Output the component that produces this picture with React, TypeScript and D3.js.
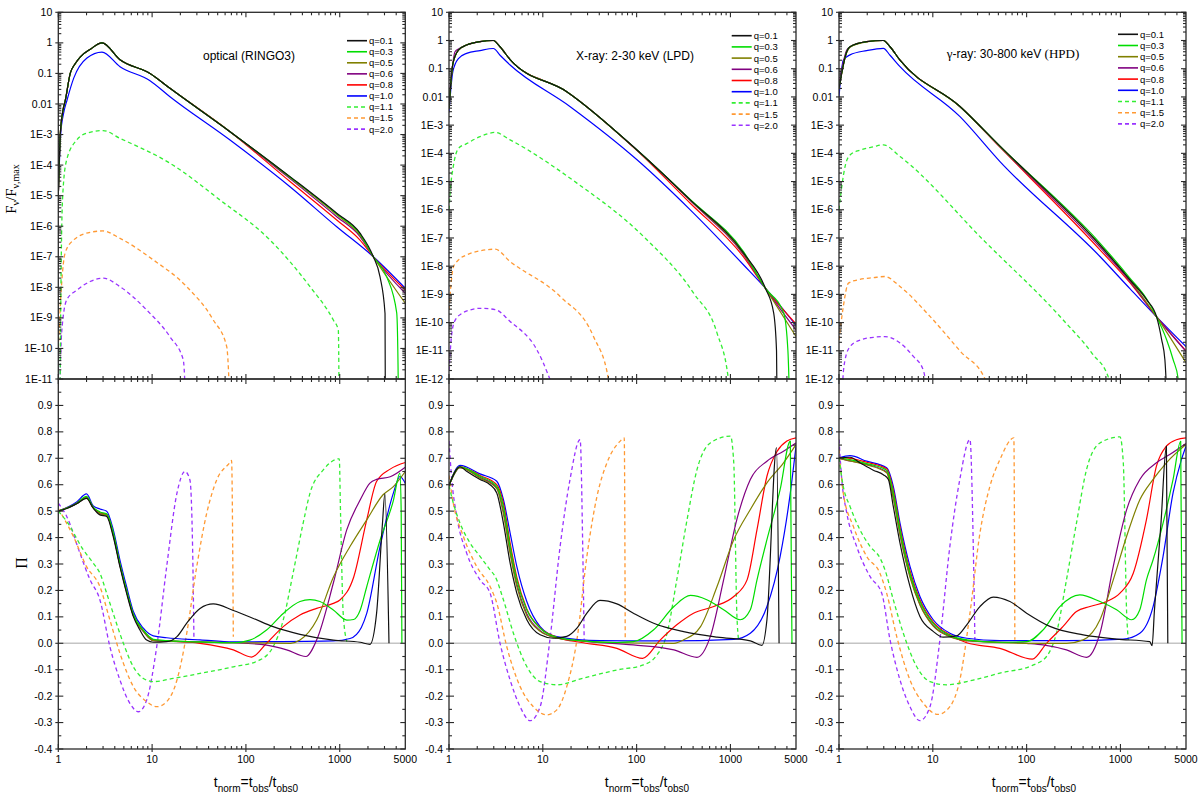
import React from "react";
import * as d3 from "d3";

type Pt = [number, number];

// ---------- series meta ----------
const qLabels = ["q=0.1", "q=0.3", "q=0.5", "q=0.6", "q=0.8", "q=1.0", "q=1.1", "q=1.5", "q=2.0"];
const qColors = ["#111111", "#00dd00", "#808000", "#800080", "#ff0000", "#0000ff", "#33ee33", "#ff9933", "#9933ff"];
const qDashed = [false, false, false, false, false, false, true, true, true];

// ---------- axes ----------
const xTickValues = [1, 10, 100, 1000, 5000];
const xTickLabels = ["1", "10", "100", "1000", "5000"];
const piTickValues = [-0.4, -0.3, -0.2, -0.1, 0.0, 0.1, 0.2, 0.3, 0.4, 0.5, 0.6, 0.7, 0.8, 0.9];
const panelTitles = ["optical (RINGO3)", "X-ray: 2-30 keV (LPD)", "γ-ray: 30-800 keV (HPD)"];
const fluxFloorExp = [-11, -12, -12];

// ---------- optical flux ----------
const optFluxEarly: Pt[] = [[1, 1e-5], [1.05, 1e-3], [1.12, 6e-3], [1.19, 0.0135], [1.34, 0.1], [1.5, 0.2], [1.72, 0.35], [2.2, 0.62], [2.92, 1.0], [4.55, 0.28], [9.5, 0.1], [15.5, 0.0326], [67.7, 1.24e-3]];
const opticalFlux: Pt[][] = [
  [...optFluxEarly, [295, 4.2e-5], [929, 2.65e-6], [1645, 5.9e-7], [2282, 1e-7], [2690, 2.2e-8], [3040, 1.4e-9], [3075, 1e-13]],
  [...optFluxEarly, [295, 4.1e-5], [929, 2.55e-6], [1645, 5.6e-7], [2282, 1e-7], [3170, 2.2e-8], [4050, 1.45e-9], [4200, 1e-11], [4215, 1e-13]],
  [...optFluxEarly, [295, 3.9e-5], [929, 2.35e-6], [1645, 5.1e-7], [2282, 1e-7], [5000, 3e-9]],
  [...optFluxEarly, [295, 3.6e-5], [929, 2.05e-6], [1645, 4.6e-7], [2282, 1e-7], [5000, 6.4e-9]],
  [...optFluxEarly, [295, 2.9e-5], [929, 1.6e-6], [1645, 3.5e-7], [2282, 1e-7], [5000, 8.2e-9]],
  [[1, 1e-5], [1.06, 1e-3], [1.14, 5e-3], [1.24, 0.0135], [1.46, 0.07], [2.02, 0.32], [2.92, 0.5], [4.55, 0.166], [9.5, 0.058], [15.5, 0.0173], [67.7, 6.6e-4], [295, 1.96e-5], [929, 9.6e-7], [2282, 1e-7], [5000, 9.3e-9]],
  [[1.04, 1e-12], [1.085, 5.9e-7], [1.13, 2e-5], [1.23, 1.5e-4], [1.57, 6.6e-4], [2.0, 1.1e-3], [3.0, 1.35e-3], [4.55, 7.5e-4], [15.5, 1.15e-4], [53, 7.2e-6], [181, 3.5e-7], [482, 1.05e-8], [855, 8.5e-10], [966, 4e-10], [990, 1e-13]],
  [[1, 1e-10], [1.085, 1.3e-8], [1.18, 1.3e-7], [1.45, 3.5e-7], [2.18, 6.3e-7], [3.0, 7e-7], [4.55, 4e-7], [10.3, 7.9e-8], [23.4, 1.05e-8], [44.9, 8.5e-10], [62.4, 1.15e-10], [69.4, 1e-13]],
  [[1.025, 1e-12], [1.085, 3.2e-10], [1.23, 3.9e-9], [1.57, 8e-9], [2.18, 1.55e-8], [3.02, 2e-8], [4.55, 1.05e-8], [8.76, 1.8e-9], [15.5, 2.4e-10], [21.5, 4.2e-11], [23.4, 1e-13]],
];

// ---------- optical polarization ----------
const opticalPol: Pt[][] = [
  [[1, 0.5], [1.23, 0.51], [1.57, 0.528], [2.0, 0.548], [2.36, 0.511], [2.78, 0.486], [3.28, 0.48], [3.85, 0.404], [4.54, 0.29], [5.35, 0.189], [6.31, 0.101], [7.42, 0.05], [8.75, 0.012], [10.3, 0.004], [14.3, 0.006], [18.4, 0.025], [23.4, 0.076], [32.4, 0.132], [44.9, 0.149], [73.4, 0.124], [120, 0.094], [195, 0.063], [377, 0.034], [855, 0.012], [1650, 0.004], [2100, -0.004], [2470, 0.113], [2850, 0.45], [3030, 0.565], [3350, 0.0]],
  [[1, 0.5], [1.57, 0.53], [2.0, 0.556], [2.36, 0.515], [2.78, 0.497], [3.28, 0.49], [3.85, 0.42], [4.54, 0.3], [5.35, 0.2], [6.31, 0.11], [8.06, 0.05], [10.3, 0.015], [14.3, 0.01], [32.4, 0.005], [73.4, 0.002], [110, 0.012], [166, 0.05], [250, 0.113], [377, 0.158], [482, 0.165], [615, 0.158], [855, 0.126], [1190, 0.088], [1407, 0.09], [1655, 0.126], [1940, 0.214], [2690, 0.39], [3730, 0.54], [4380, 0.644], [4520, 0.5], [4600, 0.0]],
  [[1, 0.5], [1.57, 0.528], [2.0, 0.55], [2.36, 0.512], [2.78, 0.49], [3.28, 0.485], [3.85, 0.41], [4.54, 0.295], [5.35, 0.195], [6.31, 0.105], [8.06, 0.045], [10.3, 0.01], [14.3, 0.008], [73.4, 0.002], [300, 0.0], [377, 0.012], [568, 0.088], [855, 0.25], [1286, 0.366], [1940, 0.467], [2896, 0.562], [3730, 0.593], [5000, 0.65]],
  [[1, 0.5], [1.57, 0.528], [2.0, 0.55], [2.36, 0.512], [2.78, 0.49], [3.28, 0.485], [3.85, 0.41], [4.54, 0.295], [5.35, 0.195], [6.31, 0.105], [8.06, 0.045], [10.3, 0.01], [14.3, 0.008], [73.4, 0.002], [166, -0.007], [272, -0.025], [436, -0.05], [568, 0.013], [855, 0.228], [1190, 0.43], [1655, 0.543], [2100, 0.606], [2470, 0.62], [3450, 0.63], [5000, 0.666]],
  [[1, 0.5], [1.57, 0.53], [2.0, 0.553], [2.36, 0.513], [2.78, 0.494], [3.28, 0.488], [3.85, 0.415], [4.54, 0.298], [5.35, 0.198], [6.31, 0.108], [8.06, 0.048], [10.3, 0.012], [14.3, 0.009], [32.4, 0.0], [73.4, -0.025], [115, -0.052], [166, 0.0], [250, 0.063], [377, 0.107], [568, 0.132], [855, 0.151], [1005, 0.164], [1407, 0.25], [1940, 0.467], [2470, 0.612], [3450, 0.659], [5000, 0.684]],
  [[1, 0.5], [1.57, 0.535], [2.0, 0.565], [2.36, 0.52], [2.78, 0.508], [3.28, 0.5], [3.85, 0.43], [4.54, 0.315], [5.35, 0.214], [6.31, 0.12], [8.06, 0.057], [10.3, 0.028], [14.3, 0.021], [32.4, 0.013], [73.4, 0.005], [166, 0.006], [855, 0.009], [1286, 0.018], [1700, 0.06], [1940, 0.113], [2690, 0.366], [3730, 0.568], [4380, 0.631], [5000, 0.605]],
  [[1, 0.5], [1.23, 0.461], [1.85, 0.353], [2.36, 0.303], [2.78, 0.265], [3.28, 0.189], [3.85, 0.113], [4.94, 0.0], [6.31, -0.089], [8.06, -0.133], [10.3, -0.145], [16.8, -0.133], [32.4, -0.114], [73.4, -0.089], [141, -0.063], [195, -0.013], [250, 0.088], [318, 0.265], [407, 0.454], [482, 0.568], [668, 0.656], [989, 0.698], [1020, 0.492], [1089, 0.113], [1190, 0.006]],
  [[1, 0.51], [1.45, 0.404], [2.0, 0.29], [2.78, 0.214], [3.55, 0.088], [4.54, -0.038], [6.31, -0.164], [8.75, -0.221], [11.2, -0.24], [14.3, -0.221], [18.4, -0.139], [23.4, 0.038], [29.9, 0.29], [38.2, 0.492], [48.8, 0.618], [67.6, 0.684], [70.3, 0.692], [73.4, 0.025]],
  [[1, 0.53], [1.23, 0.48], [1.7, 0.341], [2.18, 0.24], [2.78, 0.164], [3.55, -0.013], [4.54, -0.139], [5.81, -0.228], [7.14, -0.259], [8.75, -0.215], [11.2, -0.013], [14.3, 0.29], [18.4, 0.568], [22.4, 0.65], [25.3, 0.618], [27.0, 0.366], [27.9, 0.025]],
];

// ---------- X-ray flux ----------
const xrayFluxEarly: Pt[] = [[1, 4e-3], [1.1, 0.15], [1.26, 0.46], [1.54, 0.69], [2.14, 0.91], [2.97, 1.0], [3.5, 0.6], [4.48, 0.21], [18, 0.0154]];
const xrayFlux: Pt[][] = [
  [...xrayFluxEarly, [101, 1.32e-4], [373, 2.24e-6], [1384, 2.9e-8], [2355, 1.67e-9], [2890, 2.2e-10], [3100, 1e-11], [3143, 1e-13]],
  [...xrayFluxEarly, [101, 1.32e-4], [373, 2.3e-6], [1384, 3.2e-8], [2355, 1.67e-9], [3698, 2.2e-10], [4100, 1e-11], [4285, 1e-13]],
  [...xrayFluxEarly, [101, 1.3e-4], [373, 2.2e-6], [1384, 2.7e-8], [2355, 1.67e-9], [5000, 3.2e-11]],
  [[1, 8e-3], [1.16, 0.4], [1.26, 0.5], [1.54, 0.69], [2.14, 0.91], [2.97, 1.0], [3.5, 0.6], [4.48, 0.21], [18, 0.0154], [101, 1.3e-4], [373, 2.1e-6], [1384, 2.5e-8], [2355, 1.67e-9], [5000, 5.5e-11]],
  [...xrayFluxEarly, [101, 1.25e-4], [373, 1.7e-6], [1384, 2.1e-8], [2355, 1.67e-9], [5000, 9e-11]],
  [[1, 2.8e-3], [1.1, 0.08], [1.26, 0.23], [1.54, 0.35], [2.14, 0.44], [2.97, 0.52], [3.5, 0.3], [4.48, 0.136], [19.6, 4.5e-3], [101, 5.9e-5], [373, 9.9e-7], [1384, 1.1e-8], [2355, 1.67e-9], [5000, 8e-11]],
  [[1, 1e-6], [1.04, 6.5e-6], [1.11, 3.4e-5], [1.26, 1.5e-4], [1.54, 2.2e-4], [2.14, 3.9e-4], [3.1, 5.5e-4], [4.48, 3e-4], [23.1, 8.8e-6], [118.6, 1.12e-7], [405, 1.1e-9], [719, 4.3e-11], [950, 1e-12], [998, 1e-13]],
  [[1, 2.8e-10], [1.11, 9e-9], [1.26, 1.66e-8], [1.54, 2.5e-8], [2.14, 3.5e-8], [3.1, 4e-8], [4.48, 1.46e-8], [15.3, 8.4e-10], [34.7, 3.2e-11], [50, 1e-12], [52.3, 1e-13]],
  [[1, 2e-12], [1.07, 4e-11], [1.16, 1.2e-10], [1.37, 2.1e-10], [1.68, 2.8e-10], [2.14, 3.2e-10], [3.1, 2.9e-10], [4.48, 1.1e-10], [8.63, 1.1e-11], [15.3, 1e-13]],
];

// ---------- X-ray polarization ----------
const xrayPol: Pt[][] = [
  [[1, 0.597], [1.31, 0.668], [1.54, 0.651], [2.14, 0.62], [2.74, 0.6], [3.23, 0.569], [3.8, 0.455], [4.48, 0.304], [5.28, 0.19], [6.75, 0.089], [9.37, 0.032], [13.0, 0.019], [18.0, 0.026], [23.1, 0.057], [29.5, 0.114], [40.7, 0.162], [61.6, 0.149], [92.4, 0.114], [152, 0.076], [317, 0.044], [720, 0.023], [1630, 0.009], [2170, -0.008], [2450, 0.089], [3100, 0.74], [3300, 0.0]],
  [[1, 0.597], [1.31, 0.668], [2.14, 0.632], [3.23, 0.594], [3.8, 0.518], [4.48, 0.367], [5.28, 0.24], [6.75, 0.127], [9.37, 0.057], [14.1, 0.023], [27, 0.009], [61.6, 0.003], [92.4, 0.006], [152, 0.051], [250, 0.139], [375, 0.181], [560, 0.165], [846, 0.127], [1270, 0.089], [1630, 0.127], [1920, 0.24], [2450, 0.392], [3390, 0.582], [4350, 0.765], [4530, 0.0]],
  [[1, 0.597], [1.31, 0.665], [2.14, 0.625], [3.23, 0.585], [3.8, 0.49], [4.48, 0.34], [5.28, 0.215], [6.75, 0.105], [9.37, 0.045], [14.1, 0.02], [27, 0.008], [92.4, 0.001], [250, 0.0], [317, 0.013], [480, 0.063], [720, 0.215], [1085, 0.392], [1630, 0.506], [2450, 0.607], [3680, 0.683], [5000, 0.752]],
  [[1, 0.597], [1.31, 0.665], [2.14, 0.628], [3.23, 0.588], [3.8, 0.5], [4.48, 0.35], [5.28, 0.225], [6.75, 0.112], [9.37, 0.048], [14.1, 0.02], [27, 0.008], [92.4, -0.006], [250, -0.025], [440, -0.053], [610, 0.025], [846, 0.24], [1170, 0.468], [1630, 0.62], [2450, 0.689], [3680, 0.727], [5000, 0.758]],
  [[1, 0.597], [1.31, 0.668], [2.14, 0.635], [3.23, 0.6], [3.8, 0.53], [4.48, 0.38], [5.28, 0.25], [6.75, 0.13], [9.37, 0.058], [14.1, 0.023], [27, 0.002], [61.6, -0.019], [116, -0.057], [179, 0.013], [268, 0.07], [404, 0.114], [664, 0.139], [1085, 0.177], [1505, 0.24], [1920, 0.43], [2450, 0.632], [3155, 0.727], [4000, 0.765], [5000, 0.777]],
  [[1, 0.597], [1.31, 0.673], [2.14, 0.641], [3.23, 0.613], [3.8, 0.544], [4.48, 0.418], [5.28, 0.291], [6.75, 0.158], [9.37, 0.063], [14.1, 0.025], [40.7, 0.01], [211, 0.009], [1085, 0.015], [1630, 0.038], [2450, 0.139], [3390, 0.329], [4350, 0.569], [5000, 0.746]],
  [[1, 0.597], [1.11, 0.531], [1.31, 0.455], [1.68, 0.379], [2.14, 0.329], [2.74, 0.278], [3.1, 0.253], [3.8, 0.165], [4.86, 0.038], [6.75, -0.088], [9.37, -0.145], [14.1, -0.157], [27, -0.132], [61.6, -0.101], [118, -0.082], [165, -0.044], [211, 0.038], [268, 0.24], [345, 0.468], [440, 0.657], [610, 0.758], [1000, 0.784], [1085, 0.683], [1170, 0.114], [1220, 0.013]],
  [[1, 0.635], [1.11, 0.531], [1.42, 0.405], [1.97, 0.291], [2.74, 0.215], [3.23, 0.152], [4.13, -0.013], [5.73, -0.164], [7.93, -0.24], [11.0, -0.271], [14.1, -0.252], [18, -0.164], [23.1, 0.013], [29.5, 0.329], [37.8, 0.556], [48.3, 0.683], [66.9, 0.765], [73.8, 0.777], [75.6, 0.013]],
  [[1, 0.765], [1.07, 0.62], [1.21, 0.48], [1.54, 0.342], [2.14, 0.24], [2.74, 0.19], [3.5, 0.0], [4.48, -0.139], [5.73, -0.24], [7.33, -0.293], [9.37, -0.24], [11.9, 0.013], [15.3, 0.367], [19.5, 0.62], [25, 0.771], [26.7, 0.342], [27.6, 0.013]],
];

// ---------- gamma-ray flux ----------
const gammaFluxEarly: Pt[] = [[1, 0.02], [1.21, 0.4], [1.31, 0.6], [1.97, 0.91], [2.97, 1.0], [3.5, 0.6], [4.47, 0.2], [19.5, 4.6e-3]];
const gammaFlux: Pt[][] = [
  [...gammaFluxEarly, [52, 1.8e-4], [605, 5.7e-8], [1262, 3.3e-9], [1900, 6.5e-10], [2430, 1.6e-10], [2750, 2.5e-11], [2980, 4.7e-12], [3160, 1e-13]],
  [...gammaFluxEarly, [52, 1.8e-4], [605, 6.6e-8], [1262, 3.8e-9], [1900, 7e-10], [2430, 1.6e-10], [3100, 2.5e-11], [3650, 4.8e-12], [4130, 1e-12], [4240, 1e-13]],
  [[1, 0.023], [1.21, 0.38], [1.31, 0.58], [1.97, 0.9], [2.97, 1.0], [3.5, 0.6], [4.47, 0.2], [19.5, 4.5e-3], [52, 1.75e-4], [605, 5.5e-8], [1262, 3.2e-9], [2430, 1.6e-10], [5000, 3.8e-12]],
  [[1, 0.03], [1.21, 0.46], [1.31, 0.6], [1.97, 0.91], [2.97, 1.0], [3.5, 0.6], [4.47, 0.2], [19.5, 4.5e-3], [52, 1.7e-4], [605, 4.7e-8], [1262, 2.9e-9], [2430, 1.6e-10], [5000, 9.5e-12]],
  [...gammaFluxEarly, [52, 1.65e-4], [605, 3.8e-8], [1262, 2.6e-9], [2430, 1.6e-10], [5000, 1e-11]],
  [[1, 0.01], [1.11, 0.2], [1.31, 0.31], [1.97, 0.44], [2.97, 0.53], [3.5, 0.3], [4.47, 0.118], [19.5, 2e-3], [52, 5.1e-5], [605, 2.2e-8], [1262, 1.6e-9], [2430, 1.6e-10], [5000, 1.4e-11]],
  [[1, 1e-6], [1.07, 6.6e-6], [1.16, 3.4e-5], [1.31, 8.7e-5], [1.67, 1.3e-4], [2.32, 1.7e-4], [2.97, 2e-4], [4.47, 7.7e-5], [34.5, 8.5e-8], [244, 1.26e-10], [500, 8e-12], [755, 1e-12], [760, 1e-13]],
  [[1, 2.4e-11], [1.11, 3.6e-10], [1.26, 2.5e-9], [1.67, 3.4e-9], [2.32, 3.9e-9], [3.09, 4.3e-9], [4.47, 1.9e-9], [9.33, 1.66e-10], [20, 9e-12], [36, 1e-12], [36.5, 1e-13]],
  [[1.07, 1e-13], [1.1, 1e-12], [1.16, 4.7e-12], [1.31, 1.4e-11], [1.67, 2.4e-11], [2.32, 3e-11], [3.09, 3.2e-11], [4.47, 1.9e-11], [6.2, 6.3e-12], [7.9, 2.1e-12], [9.15, 1e-13]],
];

// ---------- gamma-ray polarization ----------
const gammaPol: Pt[][] = [
  [[1, 0.702], [1.31, 0.704], [1.67, 0.683], [2.32, 0.655], [2.97, 0.638], [3.36, 0.62], [3.79, 0.518], [4.47, 0.379], [5.71, 0.215], [7.29, 0.101], [10.1, 0.045], [12.9, 0.023], [17.9, 0.028], [23, 0.07], [31.8, 0.139], [44.1, 0.175], [66.3, 0.158], [100, 0.114], [177, 0.064], [401, 0.032], [911, 0.016], [2055, 0.006], [2176, -0.009], [2300, 0.12], [2700, 0.45], [3090, 0.746], [3200, 0.0]],
  [[1, 0.702], [1.31, 0.695], [1.97, 0.68], [3.22, 0.655], [3.79, 0.57], [4.47, 0.43], [5.71, 0.265], [7.29, 0.158], [10.1, 0.075], [15.2, 0.03], [23, 0.013], [51.9, 0.004], [100, 0.006], [150, 0.051], [226, 0.139], [369, 0.183], [605, 0.158], [911, 0.127], [1317, 0.089], [1610, 0.127], [1894, 0.24], [2230, 0.316], [2848, 0.455], [3640, 0.62], [4390, 0.764], [4540, 0.0]],
  [[1, 0.7], [1.31, 0.69], [1.97, 0.675], [3.22, 0.645], [3.79, 0.55], [4.47, 0.41], [5.71, 0.25], [7.29, 0.145], [10.1, 0.065], [15.2, 0.025], [23, 0.01], [100, 0.0], [266, 0.0], [401, 0.013], [605, 0.089], [839, 0.24], [1165, 0.405], [1610, 0.543], [2230, 0.62], [3090, 0.683], [5000, 0.752]],
  [[1, 0.7], [1.31, 0.69], [1.97, 0.677], [3.22, 0.648], [3.79, 0.555], [4.47, 0.415], [5.71, 0.255], [7.29, 0.148], [10.1, 0.068], [15.2, 0.027], [23, 0.01], [100, 0.0], [150, -0.006], [266, -0.025], [435, -0.053], [605, 0.038], [839, 0.291], [1165, 0.506], [1610, 0.62], [2420, 0.683], [3350, 0.714], [5000, 0.756]],
  [[1, 0.702], [1.31, 0.7], [1.97, 0.685], [3.22, 0.66], [3.79, 0.58], [4.47, 0.44], [5.71, 0.275], [7.29, 0.165], [10.1, 0.08], [15.2, 0.032], [23, 0.002], [51.9, -0.019], [115, -0.06], [163, 0.0], [245, 0.064], [340, 0.12], [473, 0.139], [713, 0.158], [989, 0.19], [1370, 0.265], [1894, 0.468], [2420, 0.67], [3090, 0.746], [3950, 0.77], [5000, 0.777]],
  [[1, 0.702], [1.31, 0.71], [1.97, 0.689], [3.22, 0.664], [3.79, 0.594], [4.47, 0.455], [5.71, 0.291], [7.29, 0.177], [10.1, 0.089], [15.2, 0.038], [23, 0.019], [51.9, 0.01], [266, 0.01], [1073, 0.016], [1610, 0.038], [2230, 0.139], [2848, 0.329], [3640, 0.569], [4470, 0.695], [5000, 0.746]],
  [[1, 0.702], [1.11, 0.594], [1.31, 0.518], [1.67, 0.43], [2.14, 0.367], [2.73, 0.323], [3.09, 0.278], [3.79, 0.165], [4.85, 0.038], [6.72, -0.088], [9.33, -0.145], [14, -0.157], [27, -0.139], [51.9, -0.113], [118, -0.082], [163, -0.05], [208, 0.038], [266, 0.24], [340, 0.455], [435, 0.657], [605, 0.758], [989, 0.781], [1073, 0.683], [1165, 0.114], [1214, 0.013]],
  [[1, 0.733], [1.11, 0.569], [1.42, 0.443], [1.97, 0.329], [2.73, 0.265], [3.22, 0.19], [4.12, 0.026], [5.71, -0.139], [7.92, -0.227], [11.4, -0.269], [15.2, -0.24], [19.4, -0.139], [24.9, 0.114], [31.8, 0.417], [40.6, 0.594], [51.9, 0.695], [73.1, 0.777], [74.9, 0.013]],
  [[1, 0.771], [1.07, 0.62], [1.21, 0.493], [1.54, 0.367], [2.14, 0.253], [2.85, 0.19], [3.5, 0.013], [4.47, -0.139], [5.71, -0.24], [7.29, -0.293], [9.33, -0.24], [11.9, 0.013], [15.2, 0.367], [19.4, 0.62], [24.9, 0.771], [27, 0.367], [28.1, 0.013]],
];

const fluxData = [opticalFlux, xrayFlux, gammaFlux];
const polData = [opticalPol, xrayPol, gammaPol];

// ---------- layout ----------
const W = 1200;
const H = 804;
const PANEL_W = 347;
const TOP_Y0 = 12.3;
const MID_Y = 379;
const BOT_Y1 = 749;
const panelX = [58.3, 449, 839];
const legendPos = [
  { x: 347, y: 40.7, step: 11.05 },
  { x: 731.7, y: 35.7, step: 11.2 },
  { x: 1118, y: 34.3, step: 11.2 },
];
const titlePos = [
  { x: 249, y: 60 },
  { x: 635, y: 60 },
  { x: 1013, y: 58 },
];
const xTitleCx = [256, 647, 1034];

const SANS = "Arial, 'Liberation Sans', Helvetica, sans-serif";
const SERIF = "'Times New Roman', 'Liberation Serif', serif";
const AXIS = "#2a2a2a";

function fmtLog(e: number): string {
  if (e === 1) return "10";
  if (e === 0) return "1";
  if (e === -1) return "0.1";
  if (e === -2) return "0.01";
  return "1E" + e;
}

function Panel({ idx }: { idx: number }) {
  const x0 = panelX[idx];
  const x1 = x0 + PANEL_W;
  const xs = d3.scaleLog().domain([1, 5000]).range([x0, x1]);
  const minExp = fluxFloorExp[idx];
  const yT = d3.scaleLog().domain([Math.pow(10, minExp), 10]).range([MID_Y, TOP_Y0]);
  const yB = d3.scaleLinear().domain([-0.4, 1.0]).range([BOT_Y1, MID_Y]);

  const lineT = d3.line<Pt>().x((d) => xs(d[0])).y((d) => yT(d[1])).curve(d3.curveMonotoneX);
  const lineB = d3.line<Pt>().x((d) => xs(d[0])).y((d) => yB(d[1])).curve(d3.curveMonotoneX);

  const ticks: React.ReactNode[] = [];
  let k = 0;
  const tl = (xa: number, ya: number, xb: number, yb: number) => {
    ticks.push(<line key={"t" + k++} x1={xa} y1={ya} x2={xb} y2={yb} stroke={AXIS} strokeWidth={1.1} />);
  };

  const xMajor = [1, 10, 100, 1000];
  const xMinor: number[] = [];
  for (let e = 0; e <= 3; e++) for (let m = 2; m <= 9; m++) { const v = m * Math.pow(10, e); if (v < 5000) xMinor.push(v); }
  xMajor.forEach((v) => {
    const px = xs(v);
    tl(px, TOP_Y0, px, TOP_Y0 + 5);
    tl(px, MID_Y, px, MID_Y - 5);
    tl(px, MID_Y, px, MID_Y + 5);
    tl(px, BOT_Y1 + 3, px, BOT_Y1 - 5);
  });
  xMinor.forEach((v) => {
    const px = xs(v);
    tl(px, TOP_Y0, px, TOP_Y0 + 3);
    tl(px, MID_Y, px, MID_Y - 3);
    tl(px, MID_Y, px, MID_Y + 3);
    tl(px, BOT_Y1, px, BOT_Y1 - 3);
  });

  const yLabels: React.ReactNode[] = [];
  for (let e = minExp; e <= 1; e++) {
    const py = yT(Math.pow(10, e));
    tl(x0 - 3, py, x0 + 5, py);
    tl(x1, py, x1 - 5, py);
    yLabels.push(
      <text key={"yl" + e} x={x0 - 6} y={py + 3.6} textAnchor="end" fontSize={10.5} fontFamily={SANS} fill="#000">
        {fmtLog(e)}
      </text>
    );
    if (e < 1) {
      for (let m = 2; m <= 9; m++) {
        const pm = yT(m * Math.pow(10, e));
        tl(x0, pm, x0 + 3, pm);
        tl(x1, pm, x1 - 3, pm);
      }
    }
  }
  piTickValues.forEach((v, i) => {
    const py = yB(v);
    tl(x0 - 3, py, x0 + 5, py);
    tl(x1, py, x1 - 5, py);
    yLabels.push(
      <text key={"pl" + i} x={x0 - 6} y={py + 3.6} textAnchor="end" fontSize={10.5} fontFamily={SANS} fill="#000">
        {v.toFixed(1)}
      </text>
    );
  });
  for (let v = -0.35; v < 1.0; v += 0.1) {
    const py = yB(v);
    tl(x0, py, x0 + 3, py);
    tl(x1, py, x1 - 3, py);
  }

  const order = [8, 7, 6, 5, 4, 3, 2, 1, 0];
  const lp = legendPos[idx];
  const tp = titlePos[idx];

  return (
    <g>
      <defs>
        <clipPath id={"ct" + idx}>
          <rect x={x0} y={TOP_Y0} width={PANEL_W} height={MID_Y - TOP_Y0} />
        </clipPath>
        <clipPath id={"cb" + idx}>
          <rect x={x0} y={MID_Y} width={PANEL_W} height={BOT_Y1 - MID_Y} />
        </clipPath>
      </defs>

      <line x1={x0} x2={x1} y1={yB(0)} y2={yB(0)} stroke="#c4c4c4" strokeWidth={1.5} />

      <g clipPath={`url(#ct${idx})`}>
        {order.map((i) => (
          <path key={"f" + i} d={lineT(fluxData[idx][i]) || ""} fill="none" stroke={qColors[i]}
            strokeWidth={qDashed[i] ? 1.3 : 1.2} strokeDasharray={qDashed[i] ? "4 3" : undefined} strokeLinejoin="round" />
        ))}
      </g>
      <g clipPath={`url(#cb${idx})`}>
        {order.map((i) => (
          <path key={"p" + i} d={lineB(polData[idx][i]) || ""} fill="none" stroke={qColors[i]}
            strokeWidth={qDashed[i] ? 1.3 : 1.2} strokeDasharray={qDashed[i] ? "4 3" : undefined} strokeLinejoin="round" />
        ))}
      </g>

      <rect x={x0} y={TOP_Y0} width={PANEL_W} height={MID_Y - TOP_Y0} fill="none" stroke={AXIS} strokeWidth={1.3} />
      <rect x={x0} y={MID_Y} width={PANEL_W} height={BOT_Y1 - MID_Y} fill="none" stroke={AXIS} strokeWidth={1.3} />
      {ticks}
      {yLabels}

      {xTickValues.map((v, i) => (
        <text key={"xl" + i} x={xs(v)} y={763} textAnchor="middle" fontSize={10.5} fontFamily={SANS} fill="#000">
          {xTickLabels[i]}
        </text>
      ))}

      <text x={xTitleCx[idx]} y={787} textAnchor="middle" fontFamily={SANS} fontSize={14} fill="#000">
        t<tspan fontSize={10} dy={4.5}>norm</tspan>
        <tspan dy={-4.5}>=t</tspan>
        <tspan fontSize={10} dy={4.5}>obs</tspan>
        <tspan dy={-4.5}>/t</tspan>
        <tspan fontSize={10} dy={4.5}>obs0</tspan>
      </text>

      {idx === 2 ? (
        <text x={tp.x} y={tp.y} textAnchor="middle" fontSize={12} fontFamily={SANS} fill="#000">
          <tspan fontFamily={SERIF} fontSize={13}>γ</tspan>
          <tspan>-ray: 30-800 keV </tspan>
          <tspan fontFamily={SERIF} fontSize={13}>(HPD)</tspan>
        </text>
      ) : (
        <text x={tp.x} y={tp.y} textAnchor="middle" fontSize={12} fontFamily={SANS} fill="#000">
          {panelTitles[idx]}
        </text>
      )}

      {qLabels.map((lab, i) => {
        const y = lp.y + i * lp.step;
        return (
          <g key={"lg" + i}>
            <line x1={lp.x} x2={lp.x + 20} y1={y} y2={y} stroke={qColors[i]} strokeWidth={1.6}
              strokeDasharray={qDashed[i] ? "4 3" : undefined} />
            <text x={lp.x + 22} y={y + 3.4} fontSize={9.5} fontFamily={SANS} fill="#000">{lab}</text>
          </g>
        );
      })}
    </g>
  );
}

export default function App() {
  return (
    <svg width={W} height={H} viewBox={`0 0 ${W} ${H}`}
      style={{ position: "absolute", left: 0, top: 0, background: "#fff", display: "block" }}>
      <rect x={0} y={0} width={W} height={H} fill="#fff" />
      {[0, 1, 2].map((i) => <Panel key={i} idx={i} />)}

      <text transform="translate(15.5,189) rotate(-90)" textAnchor="middle" fontFamily={SERIF} fontSize={15} fill="#000">
        F<tspan fontSize={10} dy={3.5}>ν</tspan>
        <tspan dy={-3.5}>/F</tspan>
        <tspan fontSize={10} dy={3.5}>ν,max</tspan>
      </text>
      <text transform="translate(27,563) rotate(-90)" textAnchor="middle" fontFamily={SERIF} fontSize={16} fill="#000">
        Π
      </text>
    </svg>
  );
}
